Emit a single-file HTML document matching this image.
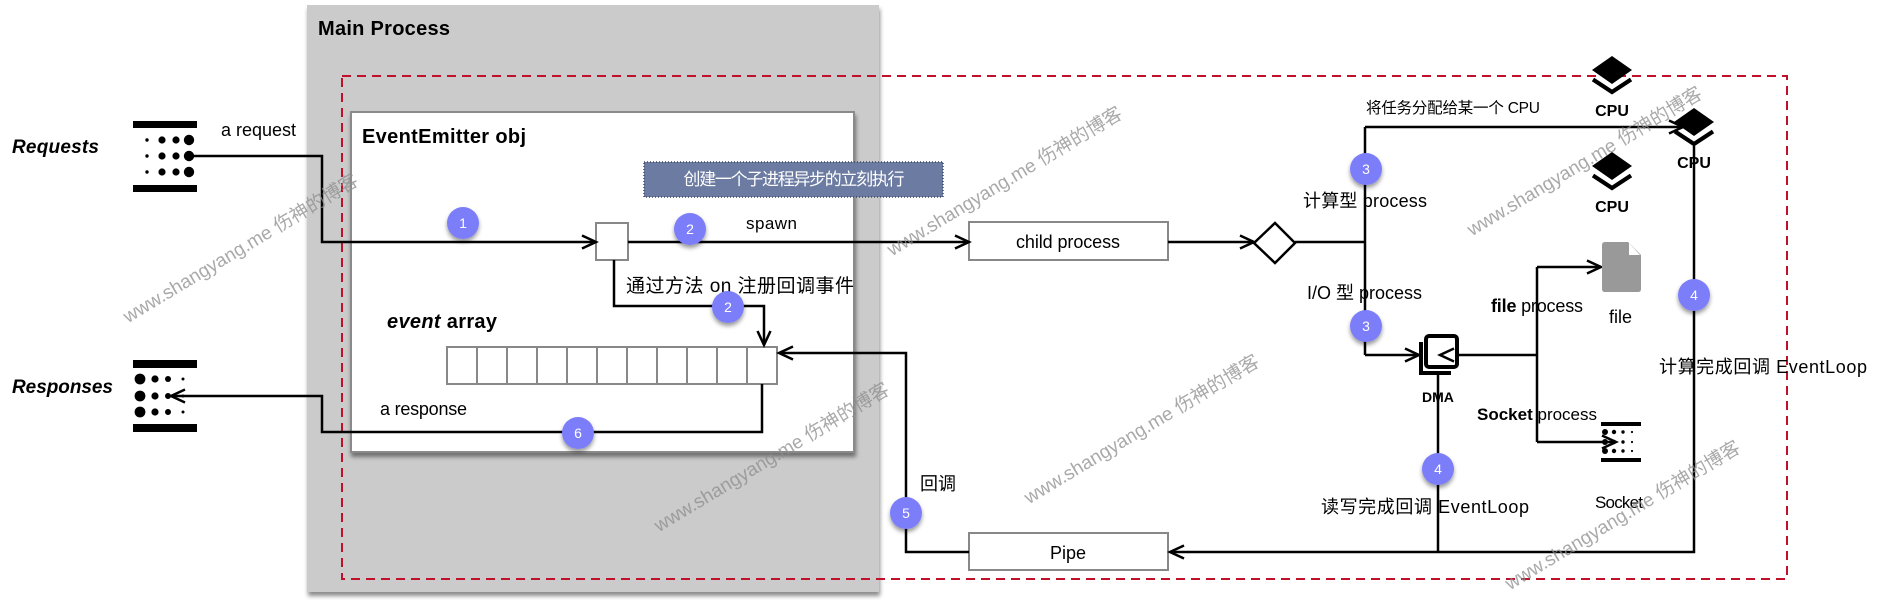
<!DOCTYPE html>
<html><head><meta charset="utf-8">
<style>
html,body{margin:0;padding:0;background:#fff;}
svg{display:block;}
text{font-family:"Liberation Sans","Noto Sans CJK SC",sans-serif;}
</style></head><body>
<svg width="1880" height="612" viewBox="0 0 1880 612" xmlns="http://www.w3.org/2000/svg">
<defs>
<filter id="sh" x="-5%" y="-5%" width="110%" height="115%"><feDropShadow dx="1" dy="4" stdDeviation="2" flood-color="#000" flood-opacity="0.45"/></filter>
<filter id="cs" x="-60%" y="-60%" width="220%" height="220%"><feDropShadow dx="0" dy="3" stdDeviation="2" flood-color="#000" flood-opacity="0.4"/></filter>
</defs>

<!-- Main Process -->
<rect x="307" y="5" width="572" height="587" fill="#cbcbcb" filter="url(#sh)"/>
<text x="318" y="35" font-size="20" font-weight="bold" textLength="132" fill="#000">Main Process</text>

<!-- red dashed -->
<rect x="342" y="76" width="1445" height="503" fill="none" stroke="#c0102a" stroke-width="2" stroke-dasharray="9 6"/>

<!-- EventEmitter box -->
<rect x="351" y="112" width="503" height="340" fill="#fff" stroke="#8a8a8a" stroke-width="2" filter="url(#sh)"/>
<text x="362" y="143" font-size="20" font-weight="bold" textLength="164">EventEmitter obj</text>

<!-- blue label -->
<rect x="644" y="162" width="299" height="35" fill="#6c7ba1" stroke="#3a4560" stroke-width="1.5" stroke-dasharray="1 2"/>
<text x="794" y="185" font-size="17" fill="#fff" text-anchor="middle" textLength="221">创建一个子进程异步的立刻执行</text>

<!-- array -->
<rect x="447" y="347" width="330" height="37" fill="#fff" stroke="#888" stroke-width="2"/>
<g stroke="#888" stroke-width="2">
<line x1="477" y1="347" x2="477" y2="384"/><line x1="507" y1="347" x2="507" y2="384"/>
<line x1="537" y1="347" x2="537" y2="384"/><line x1="567" y1="347" x2="567" y2="384"/>
<line x1="597" y1="347" x2="597" y2="384"/><line x1="627" y1="347" x2="627" y2="384"/>
<line x1="657" y1="347" x2="657" y2="384"/><line x1="687" y1="347" x2="687" y2="384"/>
<line x1="717" y1="347" x2="717" y2="384"/><line x1="747" y1="347" x2="747" y2="384"/>
</g>

<!-- boxes -->
<rect x="596" y="223" width="32" height="37" fill="#fff" stroke="#888" stroke-width="2"/>
<rect x="969" y="222" width="199" height="38" fill="#fff" stroke="#888" stroke-width="2"/>
<rect x="969" y="533" width="199" height="37" fill="#fff" stroke="#888" stroke-width="2"/>
<polygon points="1254,243 1275,223 1295,243 1275,263" fill="#fff" stroke="#000" stroke-width="2.5"/>

<!-- connectors -->
<g fill="none" stroke="#000" stroke-width="2.5" stroke-linejoin="miter">
<path d="M189,156 H322 V242 H594"/>
<path d="M628,242 H967"/>
<path d="M1168,242 H1252"/>
<path d="M1295,242 H1365"/>
<path d="M1365,127 V355"/>
<path d="M1365,127 H1683"/>
<path d="M1365,355 H1417"/>
<path d="M1537,355 H1441"/>
<path d="M1537,267 V442"/>
<path d="M1537,267 H1599"/>
<path d="M1537,442 H1614"/>
<path d="M1438,374 V552"/>
<path d="M1694,146 V552 H1171"/>
<path d="M969,552 H906 V353 H780"/>
<path d="M614,260 V306 H764 V344"/>
<path d="M762,384 V432 H322 V396 H172"/>
<!-- arrowheads -->
<polyline points="582,235.5 596,242 582,248.5"/>
<polyline points="955,235.5 969,242 955,248.5"/>
<polyline points="1240,235.5 1254,242 1240,248.5"/>
<polyline points="1669,120.5 1683,127 1669,133.5"/>
<polyline points="1405,348.5 1419,355 1405,361.5"/>
<polyline points="1454,348.5 1440,355 1454,361.5"/>
<polyline points="1587,260.5 1601,267 1587,273.5"/>
<polyline points="1602,435.5 1616,442 1602,448.5"/>
<polyline points="1184,545.5 1170,552 1184,558.5"/>
<polyline points="793,346.5 779,353 793,359.5"/>
<polyline points="757.5,331 764,345 770.5,331"/>
<polyline points="185,389.5 171,396 185,402.5"/>
</g>

<!-- Request icon -->
<rect x="133" y="121" width="64" height="7" fill="#000"/>
<rect x="133" y="185" width="64" height="7" fill="#000"/>
<g fill="#000">
<circle cx="147" cy="140" r="1.7"/><circle cx="162" cy="140" r="3.6"/><circle cx="176" cy="140" r="3.6"/><circle cx="189" cy="140" r="5.2"/>
<circle cx="147" cy="156" r="1.7"/><circle cx="162" cy="156" r="3.6"/><circle cx="176" cy="156" r="3.6"/><circle cx="189" cy="156" r="5.2"/>
<circle cx="147" cy="172" r="1.7"/><circle cx="162" cy="172" r="3.6"/><circle cx="176" cy="172" r="3.6"/><circle cx="189" cy="172" r="5.2"/>
</g>
<text x="12" y="153" font-size="19" font-weight="bold" font-style="italic" textLength="87">Requests</text>
<text x="221" y="136" font-size="18" textLength="75">a request</text>

<!-- Response icon -->
<rect x="133" y="360" width="64" height="8" fill="#000"/>
<rect x="133" y="424" width="64" height="8" fill="#000"/>
<g fill="#000">
<circle cx="140" cy="379" r="5.4"/><circle cx="155" cy="379" r="3.6"/><circle cx="168" cy="379" r="3"/><circle cx="183" cy="379" r="1.5"/>
<circle cx="140" cy="396" r="5.4"/><circle cx="155" cy="396" r="3.6"/><circle cx="168" cy="396" r="3"/><circle cx="183" cy="396" r="1.5"/>
<circle cx="140" cy="412" r="5.4"/><circle cx="155" cy="412" r="3.6"/><circle cx="168" cy="412" r="3"/><circle cx="183" cy="412" r="1.5"/>
</g>
<text x="12" y="393" font-size="19" font-weight="bold" font-style="italic" textLength="101">Responses</text>

<!-- CPU icons -->
<g fill="#000">
<polygon points="1612,56 1632,70 1612,84 1592,70"/>
<polygon points="1694,108 1714,122 1694,136 1674,122"/>
<polygon points="1612,152 1632,166 1612,180 1592,166"/>
</g>
<g fill="none" stroke="#000" stroke-width="4.2" stroke-linejoin="miter">
<polyline points="1593,79.5 1612,92 1631,79.5"/>
<polyline points="1675,131.5 1694,144 1713,131.5"/>
<polyline points="1593,175.5 1612,188 1631,175.5"/>
</g>
<g font-size="16" font-weight="bold" text-anchor="middle">
<text x="1612" y="116">CPU</text>
<text x="1694" y="168">CPU</text>
<text x="1612" y="212">CPU</text>
</g>

<!-- DMA icon -->
<rect x="1426" y="336" width="31" height="31" rx="3" fill="#fff" stroke="#000" stroke-width="4"/>
<rect x="1419" y="342" width="4" height="32" fill="#000"/>
<rect x="1419" y="371" width="32" height="4" fill="#000"/>
<polyline points="1454,348.5 1440,355 1454,361.5" fill="none" stroke="#000" stroke-width="2.5"/>
<text x="1422" y="402" font-size="14" font-weight="bold">DMA</text>

<!-- file icon -->
<path d="M1605,242 H1628 L1641,255 V289 Q1641,292 1638,292 H1605 Q1602,292 1602,289 V245 Q1602,242 1605,242 Z" fill="#999"/>
<polygon points="1629,243 1629,255 1640,255" fill="#fff"/>
<text x="1609" y="323" font-size="18">file</text>

<!-- socket icon -->
<rect x="1601" y="422" width="40" height="4" fill="#000"/>
<rect x="1601" y="458" width="40" height="4" fill="#000"/>
<g fill="#000">
<circle cx="1605" cy="432" r="3"/><circle cx="1614" cy="432" r="2.2"/><circle cx="1623" cy="432" r="1.7"/><circle cx="1632" cy="432" r="1.1"/>
<circle cx="1605" cy="442" r="3"/><circle cx="1614" cy="442" r="2.2"/><circle cx="1623" cy="442" r="1.7"/><circle cx="1632" cy="442" r="1.1"/>
<circle cx="1605" cy="451" r="3"/><circle cx="1614" cy="451" r="2.2"/><circle cx="1623" cy="451" r="1.7"/><circle cx="1632" cy="451" r="1.1"/>
</g>
<text x="1595" y="508" font-size="17" textLength="48">Socket</text>

<!-- labels -->
<text x="746" y="229" font-size="17" textLength="51">spawn</text>
<text x="1068" y="248" font-size="18" text-anchor="middle" textLength="104">child process</text>
<text x="1068" y="559" font-size="18" text-anchor="middle">Pipe</text>
<text x="1366" y="113" font-size="15.5" textLength="174">将任务分配给某一个 CPU</text>
<text x="1303" y="207" font-size="18" textLength="124">计算型 process</text>
<text x="1307" y="299" font-size="18" textLength="115">I/O 型 process</text>
<text x="1491" y="312" font-size="18" textLength="92"><tspan font-weight="bold">file</tspan> process</text>
<text x="1477" y="420" font-size="17" textLength="120"><tspan font-weight="bold">Socket</tspan> process</text>
<text x="1321" y="513" font-size="18" textLength="208">读写完成回调 EventLoop</text>
<text x="1659" y="373" font-size="18" textLength="208">计算完成回调 EventLoop</text>
<text x="920" y="490" font-size="18">回调</text>
<text x="626" y="292" font-size="19" textLength="228">通过方法 on 注册回调事件</text>
<text x="387" y="328" font-size="20" font-weight="bold" textLength="110"><tspan font-style="italic">event</tspan> array</text>
<text x="380" y="415" font-size="18" textLength="87">a response</text>

<!-- numbered circles -->
<g fill="#7c7ef9" filter="url(#cs)">
<circle cx="463" cy="223" r="16"/>
<circle cx="690" cy="229" r="16"/>
<circle cx="728" cy="307" r="16"/>
<circle cx="578" cy="433" r="16"/>
<circle cx="906" cy="513" r="16"/>
<circle cx="1366" cy="169" r="16"/>
<circle cx="1366" cy="326" r="16"/>
<circle cx="1438" cy="469" r="16"/>
<circle cx="1694" cy="295" r="16"/>
</g>
<g fill="#fff" font-size="14" text-anchor="middle">
<text x="463" y="228">1</text>
<text x="690" y="234">2</text>
<text x="728" y="312">2</text>
<text x="578" y="438">6</text>
<text x="906" y="518">5</text>
<text x="1366" y="174">3</text>
<text x="1366" y="331">3</text>
<text x="1438" y="474">4</text>
<text x="1694" y="300">4</text>
</g>

<!-- watermarks -->
<g font-size="19" fill="#8c8c8c" fill-opacity="0.75" text-anchor="middle" dominant-baseline="central">
<text x="241" y="249" transform="rotate(-31 241 249)">www.shangyang.me 伤神的博客</text>
<text x="1005" y="182" transform="rotate(-31 1005 182)">www.shangyang.me 伤神的博客</text>
<text x="772" y="458" transform="rotate(-31 772 458)">www.shangyang.me 伤神的博客</text>
<text x="1142" y="430" transform="rotate(-31 1142 430)">www.shangyang.me 伤神的博客</text>
<text x="1585" y="162" transform="rotate(-31 1585 162)">www.shangyang.me 伤神的博客</text>
<text x="1623" y="516" transform="rotate(-31 1623 516)">www.shangyang.me 伤神的博客</text>
</g>
</svg>
</body></html>
